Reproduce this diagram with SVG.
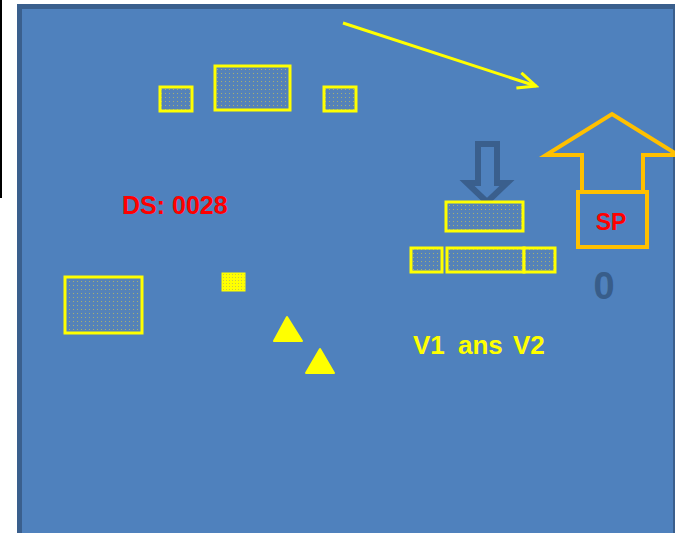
<svg xmlns="http://www.w3.org/2000/svg" width="675" height="533" viewBox="0 0 675 533">
<style>
.bx{fill:url(#dots);stroke:#FFFF00;stroke-width:3}
.tri{fill:#FFFF00;stroke:#FFFF00;stroke-width:2;stroke-linejoin:round}
.t{font-family:"Liberation Sans",Arial,sans-serif;font-weight:bold}
.or{fill:none;stroke:#FFC000;stroke-width:4}
</style>
<defs>
<pattern id="dots" width="4" height="4" patternUnits="userSpaceOnUse">
<rect width="4" height="4" fill="#5582B8"/>
<rect x="1" y="1" width="1" height="1" fill="#A8B070"/>
</pattern>
<pattern id="ydots" width="3" height="3" patternUnits="userSpaceOnUse">
<rect width="3" height="3" fill="#FFFF00"/>
<rect x="1" y="1" width="1" height="1" fill="#C8C840"/>
</pattern>
<marker id="open" markerWidth="22" markerHeight="20" refX="19" refY="9" orient="auto" markerUnits="userSpaceOnUse">
<path d="M1,1 L19,9 L1,17" fill="none" stroke="#FFFF00" stroke-width="3"/>
</marker>
</defs>
<rect x="0" y="0" width="675" height="533" fill="#FFFFFF"/>
<line x1="1" y1="0" x2="1" y2="198" stroke="#000000" stroke-width="2"/>
<g id="background">
<rect x="17" y="4" width="660" height="532" fill="#3A5F8D"/>
<rect x="22" y="9" width="651" height="524" fill="#4F81BD"/>
</g>
<g id="top-boxes">
<rect id="tb1" class="bx" x="160" y="87" width="32" height="24"/>
<rect id="tb2" class="bx" x="215" y="66" width="75" height="44"/>
<rect id="tb3" class="bx" x="324" y="87" width="32" height="24"/>
</g>
<g id="ds-label"><text class="t" x="122" y="214" font-size="25" fill="#FF0000">DS: 0028</text></g>
<g id="left-box"><rect class="bx" x="65" y="277" width="77" height="56"/></g>
<g id="small-square"><rect x="222" y="273" width="23" height="18" fill="url(#ydots)" stroke="#FFFF00" stroke-width="1"/></g>
<g id="triangles">
<polygon class="tri" points="287,317 274,341 302,341"/>
<polygon class="tri" points="320,349 306,373 334,373"/>
</g>
<g id="down-arrow">
<polygon points="478,144 497,144 497,183 507,183 487,202 467,183 478,183" fill="none" stroke="#3A5F8D" stroke-width="6" stroke-linejoin="miter"/>
</g>
<g id="stack">
<rect class="bx" x="446" y="202" width="77" height="29"/>
<rect class="bx" x="411" y="248" width="31" height="24"/>
<rect class="bx" x="447" y="248" width="77" height="24"/>
<rect class="bx" x="524" y="248" width="31" height="24"/>
</g>
<g id="sp">
<polyline class="or" points="582,192 582,155 546,155 612,114 678,155 643,155 643,192"/>
<rect class="or" x="578" y="192" width="69" height="55"/>
<text class="t" x="611" y="230" font-size="23" fill="#FF0000" text-anchor="middle">SP</text>
</g>
<g id="zero"><text class="t" x="604" y="299" font-size="38" fill="#385D8A" text-anchor="middle">0</text></g>
<g id="v-label"><text class="t" y="354" font-size="26" fill="#FFFF00"><tspan x="413">V1</tspan><tspan x="458">ans</tspan><tspan x="513">V2</tspan></text></g>
<g id="connectors">
<line x1="343" y1="23" x2="536" y2="86" stroke="#FFFF00" stroke-width="3" marker-end="url(#open)"/>
</g>
</svg>
